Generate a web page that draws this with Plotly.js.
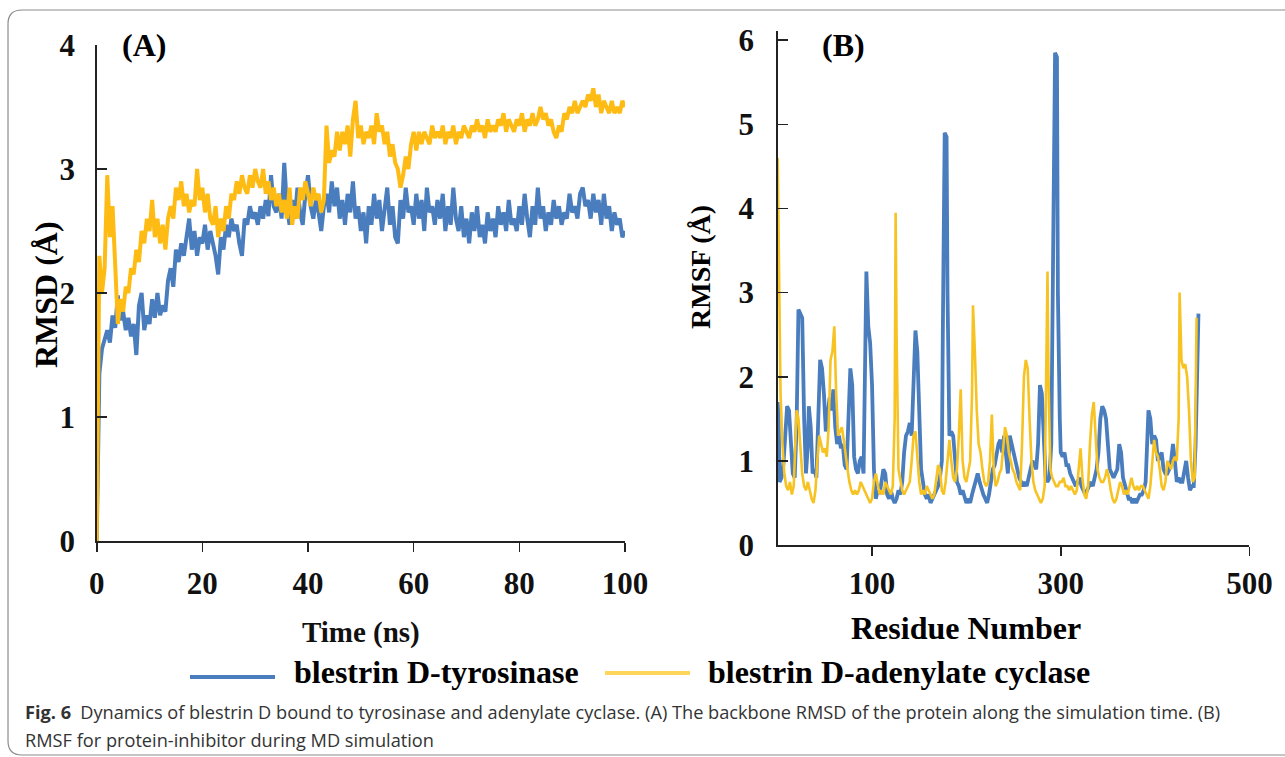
<!DOCTYPE html>
<html><head><meta charset="utf-8">
<script src="https://cdn.plot.ly/plotly-3.0.1.min.js"></script>
<style>html,body{margin:0;padding:0;background:#fff;}#chart{width:1285px;height:757px;}</style>
</head><body><div id="chart"></div>
<script>
// ---------- Panel A: RMSD vs time (sampled every 0.5 ns) ----------
const timeStepNs = 0.5;
const rmsdTyrosinase = [
0.0,1.35,1.55,1.62,1.7,1.6,1.82,1.72,1.98,1.78,
1.85,1.7,1.8,1.65,1.75,1.5,1.9,2.0,1.7,1.82,
1.75,1.95,1.8,2.0,1.82,1.9,1.85,2.1,2.2,2.05,
2.35,2.25,2.4,2.3,2.45,2.6,2.35,2.5,2.3,2.45,
2.4,2.55,2.35,2.5,2.4,2.3,2.15,2.45,2.35,2.55,
2.45,2.6,2.5,2.55,2.4,2.3,2.6,2.55,2.7,2.6,
2.65,2.55,2.7,2.6,2.75,2.62,2.95,2.7,2.65,2.8,
2.6,3.05,2.7,2.55,2.75,2.6,2.85,2.65,2.55,2.8,
2.95,2.7,2.6,2.75,2.65,2.5,2.7,2.8,2.65,2.9,
2.7,2.85,2.6,2.75,2.55,2.8,2.65,2.9,2.6,2.7,
2.5,2.65,2.4,2.7,2.55,2.8,2.6,2.75,2.5,2.65,
2.85,2.55,2.7,2.45,2.4,2.75,2.6,2.85,2.65,2.7,
2.55,2.8,2.6,2.75,2.5,2.85,2.65,2.7,2.55,2.75,
2.6,2.8,2.5,2.7,2.55,2.85,2.6,2.5,2.7,2.45,
2.6,2.4,2.65,2.5,2.7,2.45,2.55,2.4,2.65,2.5,
2.6,2.45,2.7,2.55,2.65,2.5,2.75,2.55,2.6,2.5,
2.7,2.55,2.8,2.6,2.45,2.7,2.55,2.85,2.6,2.7,
2.5,2.65,2.55,2.75,2.6,2.7,2.55,2.65,2.6,2.8,
2.65,2.7,2.6,2.8,2.85,2.7,2.75,2.6,2.8,2.65,
2.75,2.55,2.8,2.6,2.7,2.5,2.65,2.55,2.6,2.45,
2.5];
const rmsdAdenylate = [
0.0,2.3,2.0,2.2,2.95,2.45,2.7,2.15,1.75,1.95,
1.85,2.05,2.0,2.2,2.15,2.35,2.25,2.5,2.4,2.6,
2.5,2.75,2.45,2.6,2.4,2.55,2.35,2.6,2.7,2.6,
2.85,2.75,2.9,2.7,2.8,2.65,2.75,2.7,3.0,2.75,
2.85,2.65,2.8,2.6,2.55,2.7,2.45,2.6,2.5,2.7,
2.6,2.8,2.75,2.9,2.8,2.95,2.85,2.8,2.95,2.85,
3.0,2.9,2.85,3.0,2.8,2.9,2.75,2.85,2.7,2.8,
2.65,2.75,2.6,2.85,2.55,2.7,2.6,2.85,2.75,2.9,
2.8,2.7,2.85,2.75,2.8,2.65,2.75,3.35,3.05,3.15,
3.1,3.3,3.15,3.3,3.2,3.35,3.1,3.4,3.55,3.25,
3.35,3.2,3.3,3.25,3.35,3.2,3.45,3.3,3.35,3.2,
3.3,3.1,3.2,3.05,3.0,2.85,2.95,3.1,3.0,3.2,
3.3,3.15,3.3,3.2,3.3,3.25,3.2,3.35,3.25,3.3,
3.25,3.35,3.2,3.3,3.25,3.35,3.2,3.3,3.25,3.35,
3.3,3.25,3.35,3.3,3.4,3.3,3.35,3.25,3.4,3.3,
3.35,3.3,3.4,3.35,3.45,3.3,3.4,3.35,3.3,3.4,
3.35,3.45,3.3,3.4,3.35,3.45,3.35,3.4,3.5,3.4,
3.45,3.35,3.4,3.3,3.25,3.35,3.3,3.45,3.4,3.5,
3.45,3.55,3.45,3.5,3.55,3.5,3.6,3.55,3.65,3.5,
3.6,3.45,3.55,3.5,3.45,3.55,3.45,3.5,3.45,3.55,
3.5];
const timeNs = rmsdTyrosinase.map((_, i) => i * timeStepNs);

// ---------- Panel B: RMSF per residue ----------
const residueTyr = [0,1,2,4,6,8,10,12,14,16,18,20,22,24,26,28,30,32,33,35,37,39,41,43,45,47,49,51,53,55,57,59,61,63,65,67,69,71,73,75,77,79,81,83,85,87,89,91,92,94,96,98,100,102,104,106,108,110,112,114,116,118,120,122,124,126,128,130,132,134,136,138,140,142,144,146,148,150,152,154,156,158,160,162,164,166,168,170,172,174,175,177,179,180,182,184,186,188,190,192,194,196,198,200,202,204,206,208,210,212,214,216,218,220,222,224,226,228,230,232,234,236,238,240,242,244,246,248,250,252,254,256,258,260,262,264,266,268,270,272,274,276,278,280,282,284,286,288,290,292,294,296,297,299,300,302,304,306,308,310,312,314,316,318,320,322,324,326,328,330,332,334,336,338,340,342,344,346,348,350,352,354,356,358,360,362,364,366,368,370,372,374,376,378,380,382,384,386,388,390,392,393,395,397,399,401,403,405,407,409,411,413,415,417,419,421,423,425,427,429,431,433,435,437,439,441,443,445,446];
const rmsfTyr = [1.7,1.5,0.75,0.8,0.95,1.3,1.65,1.6,1.1,0.85,0.8,1.4,2.8,2.75,2.7,1.5,0.85,1.2,1.65,1.4,0.85,0.9,0.8,1.5,2.2,2.1,1.8,1.35,1.6,1.75,1.6,1.85,1.4,1.2,1.3,1.15,1.2,0.95,0.9,1.4,2.1,1.9,1.05,0.9,0.85,1.0,1.05,0.85,1.5,3.25,2.6,2.4,1.9,0.9,0.55,0.65,0.6,0.75,0.9,0.85,0.6,0.55,0.65,0.55,0.5,0.55,0.65,0.6,0.75,1.1,1.3,1.35,1.45,1.3,1.8,2.55,2.3,1.5,0.9,0.75,0.6,0.55,0.6,0.5,0.55,0.6,0.65,0.7,0.8,1.0,2.5,4.9,4.85,3.0,1.3,1.35,1.3,1.0,0.75,0.7,0.6,0.65,0.55,0.5,0.55,0.5,0.6,0.7,0.8,0.85,0.75,0.65,0.6,0.55,0.5,0.6,0.75,0.9,0.95,1.1,1.2,1.25,1.1,1.3,1.0,0.85,1.3,1.2,1.1,0.95,0.85,0.8,0.75,0.7,0.75,0.7,0.8,0.9,1.0,0.95,0.9,1.2,1.9,1.8,1.3,0.8,0.75,0.8,1.2,4.0,5.85,5.8,3.0,1.5,1.1,1.05,1.1,0.95,0.95,0.85,0.8,0.75,0.7,0.75,0.8,0.7,0.65,0.6,0.65,0.7,0.75,0.7,0.8,0.9,1.1,1.5,1.65,1.6,1.5,1.1,0.9,0.85,0.8,0.85,0.9,1.2,1.1,0.8,0.7,0.6,0.55,0.55,0.5,0.55,0.5,0.55,0.6,0.6,0.65,0.75,1.3,1.6,1.5,1.2,1.3,1.25,1.0,1.05,1.1,0.9,0.85,0.85,0.9,1.0,1.2,1.0,0.75,0.8,0.75,0.75,0.85,1.0,0.8,0.65,0.7,0.7,1.2,2.75,2.75];
const residueAde = [0,1,2,3,5,7,9,11,13,15,17,19,20,22,24,26,28,30,32,34,36,38,40,42,44,46,48,50,52,54,56,58,60,62,64,66,68,70,72,74,76,78,80,82,84,86,88,90,92,94,96,98,100,102,104,106,108,110,112,114,116,118,120,122,124,125,126,128,130,132,134,136,138,140,142,144,146,148,150,152,154,156,158,160,162,164,166,168,170,172,174,176,178,180,182,184,186,188,190,192,194,196,198,200,202,204,206,207,209,211,213,215,217,219,221,223,225,227,229,231,233,235,237,239,241,243,245,247,249,251,253,255,257,259,261,263,265,267,269,271,273,275,277,279,281,283,284,286,287,289,291,293,295,297,299,301,303,305,307,309,311,313,315,317,319,321,323,325,327,329,331,333,335,337,339,341,343,345,347,349,351,353,355,357,359,361,363,365,367,369,371,373,375,377,379,381,383,385,387,389,391,393,395,397,399,401,403,405,407,409,411,413,415,417,419,421,423,425,426,428,430,432,434,436,438,440,442,444];
const rmsfAde = [4.6,3.5,2.5,1.8,1.2,0.85,0.7,0.65,0.75,0.6,0.7,1.3,1.6,1.5,1.1,0.85,0.7,0.65,0.75,0.65,0.55,0.5,0.65,1.0,1.3,1.2,1.1,1.15,1.05,1.4,2.2,2.3,2.6,1.8,1.3,1.35,1.4,1.25,1.05,0.9,0.75,0.65,0.6,0.65,0.6,0.65,0.75,0.7,0.65,0.6,0.55,0.5,0.55,0.75,0.85,0.7,0.6,0.65,0.6,0.75,0.7,0.65,0.6,0.7,1.5,3.95,2.5,0.9,0.75,0.65,0.6,0.65,0.7,0.75,1.0,1.3,1.35,1.0,0.75,0.6,0.65,0.6,0.7,0.65,0.6,0.55,0.6,0.75,0.95,0.9,0.65,0.6,0.75,1.0,1.25,1.0,0.8,0.75,0.9,1.3,1.85,1.0,0.8,0.75,0.9,1.0,1.8,2.85,2.3,1.6,1.2,1.1,0.9,0.75,0.7,0.75,1.0,1.55,0.9,0.7,0.75,0.85,0.9,1.2,1.4,1.3,1.1,1.0,0.9,0.85,0.75,0.7,0.65,1.2,2.0,2.2,2.1,1.5,1.0,0.75,0.65,0.6,0.55,0.5,0.55,0.7,1.5,3.25,2.0,0.9,0.8,0.75,0.7,0.7,0.75,0.75,0.8,0.7,0.7,0.65,0.7,0.65,0.6,0.65,0.9,1.15,0.8,0.6,0.55,0.7,1.2,1.55,1.7,1.2,0.9,0.8,0.75,0.75,0.8,0.9,0.8,0.65,0.55,0.5,0.55,0.65,0.75,0.7,0.6,0.65,0.6,0.7,0.8,0.7,0.65,0.7,0.65,0.7,0.7,0.65,0.6,0.55,0.7,1.0,1.25,1.1,1.05,0.9,0.7,0.65,0.75,1.0,0.95,0.9,1.0,1.05,1.0,1.5,3.0,2.2,2.1,2.15,2.0,1.6,1.0,0.75,0.8,2.7];

// ---------- Text ----------
const seriesNames = ['blestrin D-tyrosinase', 'blestrin D-adenylate cyclase'];
const ticksA_x = [0, 20, 40, 60, 80, 100];
const ticksA_y = [0, 1, 2, 3, 4];
const ticksB_x = [100, 300, 500];
const ticksB_y = [0, 1, 2, 3, 4, 5, 6];
const captionLine1 = '<b>Fig. 6</b>\u2002Dynamics of blestrin D bound to tyrosinase and adenylate cyclase. (A) The backbone RMSD of the protein along the simulation time. (B)';
const captionLine2 = 'RMSF for protein-inhibitor during MD simulation';

// ---------- Styling ----------
const W = 1285, H = 757;
const fx = p => p / W, fy = p => 1 - p / H;
const BLUE = '#4a7dbd', GOLD = '#fdbb14', GOLD_B = '#f6c323', GOLD_LEG = '#ffd55a';
const SERIF = 'Liberation Serif, Times New Roman, serif';
const tickFont = {family: SERIF, size: 31, color: '#111', weight: 700};
const axisCommon = {showgrid: false, zeroline: false, showline: true, linecolor: '#222', linewidth: 1.6,
  tickcolor: '#222', tickwidth: 1.6, tickfont: tickFont, automargin: false, fixedrange: true};

const traces = [
  {x: timeNs, y: rmsdTyrosinase, xaxis: 'x', yaxis: 'y', mode: 'lines', name: seriesNames[0],
   line: {color: BLUE, width: 4}},
  {x: timeNs, y: rmsdAdenylate, xaxis: 'x', yaxis: 'y', mode: 'lines', name: seriesNames[1],
   line: {color: GOLD, width: 4}},
  {x: residueTyr, y: rmsfTyr, xaxis: 'x2', yaxis: 'y2', mode: 'lines', name: seriesNames[0],
   line: {color: BLUE, width: 3.8}},
  {x: residueAde, y: rmsfAde, xaxis: 'x2', yaxis: 'y2', mode: 'lines', name: seriesNames[1],
   line: {color: GOLD_B, width: 2.6}}
];

function P(px, py) { return fx(px).toFixed(5) + ',' + fy(py).toFixed(5); }
const borderPath = 'M' + P(1300, 10) + ' L' + P(22, 10) + ' Q' + P(8, 10) + ' ' + P(8, 24) +
  ' L' + P(8, 741) + ' Q' + P(8, 755) + ' ' + P(22, 755) + ' L' + P(1300, 755);

const ann = (text, px, py, size, extra) => Object.assign({text: text, x: fx(px), y: fy(py), xref: 'paper', yref: 'paper',
  showarrow: false, xanchor: 'center', yanchor: 'middle', font: {family: SERIF, size: size, color: '#000', weight: 700}}, extra || {});
const CAP_FONT = {family: 'Open Sans, Noto Sans, sans-serif', size: 18.2, color: '#333'};

const layout = {
  width: W, height: H, margin: {l: 0, r: 0, t: 0, b: 0}, paper_bgcolor: '#fff', plot_bgcolor: 'rgba(0,0,0,0)',
  showlegend: false,
  xaxis: Object.assign({}, axisCommon, {domain: [fx(96.7), fx(625)], range: [0, 100], tickvals: ticksA_x,
    ticks: 'outside', ticklen: 9, ticklabelstandoff: 5, anchor: 'y',
    title: {text: 'Time (ns)', font: {family: SERIF, size: 29, color: '#111', weight: 700}, standoff: 22}}),
  yaxis: Object.assign({}, axisCommon, {domain: [fy(541), fy(45)], range: [0, 4], tickvals: ticksA_y,
    ticks: 'inside', ticklen: 10, ticklabelstandoff: 14, anchor: 'x'}),
  xaxis2: Object.assign({}, axisCommon, {domain: [fx(777.7), fx(1249.4)], range: [0, 500], tickvals: ticksB_x,
    ticks: 'outside', ticklen: 9, ticklabelstandoff: 1, anchor: 'y2'}),
  yaxis2: Object.assign({}, axisCommon, {domain: [fy(545), fy(31)], range: [0, 6.11], tickvals: ticksB_y,
    ticks: 'inside', ticklen: 10, ticklabelstandoff: 16, anchor: 'x2'}),
  shapes: [
    {type: 'path', xref: 'paper', yref: 'paper', path: borderPath, line: {color: '#8c8c8c', width: 1.2}},
    {type: 'line', xref: 'paper', yref: 'paper', x0: fx(190), x1: fx(275), y0: fy(677), y1: fy(677), line: {color: BLUE, width: 4}},
    {type: 'line', xref: 'paper', yref: 'paper', x0: fx(605), x1: fx(690), y0: fy(673), y1: fy(673), line: {color: GOLD_LEG, width: 4}}
  ],
  annotations: [
    ann('(A)', 144, 45, 32),
    ann('(B)', 843, 45, 32),
    ann('RMSD (Å)', 46, 295, 32, {textangle: -90}),
    ann('RMSF (Å)', 700, 267, 28, {textangle: -90}),
    ann('Residue Number', 966, 628, 32),
    ann(seriesNames[0], 292, 672, 32, {xanchor: 'left'}),
    ann(seriesNames[1], 706, 672, 32, {xanchor: 'left'}),
    {text: captionLine1, x: fx(23), y: fy(712), xref: 'paper', yref: 'paper', showarrow: false, xanchor: 'left', yanchor: 'middle', font: CAP_FONT},
    {text: captionLine2, x: fx(23), y: fy(740), xref: 'paper', yref: 'paper', showarrow: false, xanchor: 'left', yanchor: 'middle', font: CAP_FONT}
  ]
};

Plotly.newPlot('chart', traces, layout, {displayModeBar: false, staticPlot: true});
</script>
</body></html>
